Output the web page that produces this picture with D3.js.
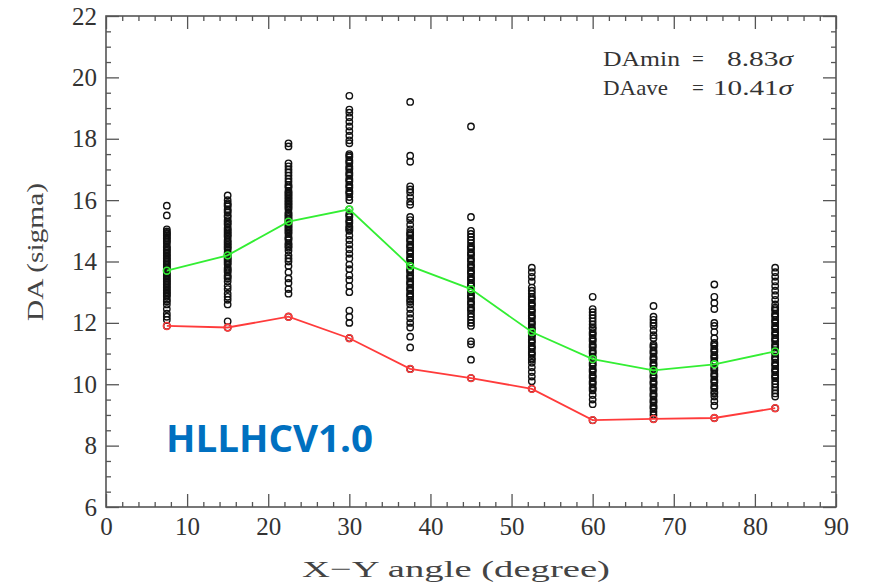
<!DOCTYPE html>
<html>
<head>
<meta charset="utf-8">
<script src="https://cdn.jsdelivr.net/npm/d3@7"></script>
<style>
  html, body { margin: 0; padding: 0; background: #fff; }
  svg { display: block; }
</style>
</head>
<body>
<div id="chart"></div>
<script>
// DA vs X-Y angle scan, one column of seeds per angle

var angles = [7.5, 15, 22.5, 30, 37.5, 45, 52.5, 60, 67.5, 75, 82.5];

// minimum DA over seeds (red)
var daMin = [11.9, 11.85, 12.2, 11.5, 10.5, 10.2, 9.85, 8.83, 8.87, 8.9, 9.22];
// average DA over seeds (green)
var daAve = [13.7, 14.2, 15.3, 15.7, 13.85, 13.1, 11.7, 10.82, 10.45, 10.65, 11.07];

// DA per seed, one list per angle
var seeds = [
  [15.82, 15.5, 15.05, 14.98, 14.93, 14.9, 14.85, 14.8, 14.75, 14.7, 14.65, 14.6, 14.5, 14.45, 14.4, 14.35, 14.3, 14.25, 14.2, 14.15, 14.1, 14.05, 14.0, 13.95, 13.9, 13.85, 13.8, 13.75, 13.7, 13.65, 13.6, 13.55, 13.5, 13.45, 13.4, 13.35, 13.3, 13.25, 13.2, 13.15, 13.1, 13.05, 13.0, 12.95, 12.9, 12.85, 12.75, 12.7, 12.6, 12.45, 12.3, 12.2, 12.1, 11.9],
  [16.15, 16.0, 15.9, 15.85, 15.8, 15.7, 15.65, 15.6, 15.5, 15.45, 15.35, 15.3, 15.25, 15.2, 15.1, 15.05, 15.0, 14.95, 14.9, 14.85, 14.8, 14.7, 14.65, 14.6, 14.55, 14.5, 14.45, 14.4, 14.3, 14.25, 14.2, 14.15, 14.1, 14.05, 14.0, 13.95, 13.9, 13.8, 13.75, 13.7, 13.65, 13.55, 13.5, 13.45, 13.35, 13.2, 13.1, 12.95, 12.85, 12.75, 12.6, 12.05, 11.85],
  [17.85, 17.75, 17.2, 17.1, 17.0, 16.9, 16.8, 16.7, 16.6, 16.5, 16.45, 16.4, 16.3, 16.25, 16.2, 16.15, 16.1, 16.05, 16.0, 15.95, 15.9, 15.85, 15.8, 15.75, 15.7, 15.6, 15.55, 15.5, 15.45, 15.4, 15.35, 15.3, 15.25, 15.2, 15.15, 15.1, 15.05, 15.0, 14.95, 14.9, 14.8, 14.75, 14.7, 14.6, 14.55, 14.5, 14.45, 14.35, 14.2, 14.1, 14.0, 13.85, 13.65, 13.45, 13.3, 13.1, 12.95, 12.2],
  [19.4, 18.95, 18.85, 18.7, 18.55, 18.4, 18.25, 18.1, 17.95, 17.85, 17.5, 17.45, 17.4, 17.3, 17.25, 17.2, 17.1, 17.05, 17.0, 16.9, 16.85, 16.8, 16.7, 16.65, 16.6, 16.5, 16.45, 16.4, 16.3, 16.25, 16.2, 16.1, 16.0, 15.7, 15.55, 15.5, 15.45, 15.35, 15.3, 15.25, 15.15, 15.1, 15.05, 15.0, 14.85, 14.7, 14.55, 14.4, 14.25, 14.1, 13.9, 13.75, 13.55, 13.4, 13.2, 13.0, 12.4, 12.2, 12.0, 11.5],
  [19.2, 17.45, 17.25, 16.45, 16.35, 16.25, 16.1, 15.95, 15.85, 15.45, 15.35, 15.2, 15.05, 14.95, 14.9, 14.85, 14.75, 14.7, 14.65, 14.55, 14.5, 14.45, 14.35, 14.3, 14.25, 14.15, 14.1, 14.05, 13.95, 13.9, 13.85, 13.75, 13.7, 13.65, 13.55, 13.5, 13.45, 13.35, 13.3, 13.25, 13.15, 13.1, 13.05, 12.95, 12.9, 12.85, 12.75, 12.7, 12.6, 12.45, 12.3, 12.15, 12.0, 11.85, 11.55, 11.2, 10.5],
  [18.4, 15.45, 15.0, 14.9, 14.8, 14.7, 14.6, 14.5, 14.45, 14.4, 14.3, 14.25, 14.2, 14.1, 14.05, 14.0, 13.9, 13.85, 13.8, 13.7, 13.65, 13.6, 13.5, 13.45, 13.4, 13.3, 13.25, 13.2, 13.1, 13.05, 13.0, 12.9, 12.85, 12.8, 12.7, 12.65, 12.6, 12.5, 12.45, 12.4, 12.3, 12.2, 12.1, 12.0, 11.9, 11.4, 11.3, 10.8, 10.2],
  [13.8, 13.65, 13.5, 13.35, 13.15, 13.05, 12.95, 12.85, 12.8, 12.75, 12.65, 12.6, 12.55, 12.45, 12.4, 12.35, 12.25, 12.2, 12.15, 12.05, 12.0, 11.95, 11.85, 11.8, 11.75, 11.65, 11.6, 11.55, 11.45, 11.4, 11.35, 11.25, 11.2, 11.15, 11.05, 11.0, 10.95, 10.85, 10.8, 10.7, 10.55, 10.4, 10.25, 10.1, 9.85],
  [12.85, 12.45, 12.35, 12.25, 12.15, 12.05, 11.95, 11.85, 11.8, 11.7, 11.65, 11.6, 11.5, 11.45, 11.4, 11.3, 11.25, 11.2, 11.1, 11.05, 11.0, 10.9, 10.85, 10.8, 10.7, 10.65, 10.6, 10.5, 10.45, 10.4, 10.3, 10.25, 10.2, 10.1, 10.05, 10.0, 9.9, 9.85, 9.8, 9.65, 9.5, 9.35, 8.83],
  [12.55, 12.2, 12.1, 12.0, 11.9, 11.75, 11.6, 11.5, 11.3, 11.25, 11.2, 11.1, 11.05, 11.0, 10.9, 10.85, 10.8, 10.7, 10.65, 10.6, 10.5, 10.45, 10.4, 10.3, 10.25, 10.2, 10.1, 10.05, 10.0, 9.9, 9.85, 9.8, 9.7, 9.65, 9.6, 9.5, 9.45, 9.4, 9.3, 9.25, 9.2, 9.1, 9.0, 8.87],
  [13.25, 12.85, 12.65, 12.45, 12.0, 11.9, 11.7, 11.5, 11.35, 11.3, 11.25, 11.15, 11.1, 11.05, 10.95, 10.9, 10.85, 10.75, 10.7, 10.65, 10.55, 10.5, 10.45, 10.35, 10.3, 10.25, 10.15, 10.1, 10.05, 9.95, 9.9, 9.85, 9.75, 9.7, 9.6, 9.45, 9.3, 8.9],
  [13.8, 13.65, 13.5, 13.35, 13.2, 13.05, 12.9, 12.75, 12.6, 12.5, 12.45, 12.4, 12.3, 12.25, 12.2, 12.1, 12.05, 12.0, 11.9, 11.85, 11.8, 11.7, 11.65, 11.6, 11.5, 11.45, 11.4, 11.3, 11.25, 11.2, 11.1, 11.05, 11.0, 10.9, 10.85, 10.8, 10.7, 10.65, 10.6, 10.5, 10.45, 10.4, 10.3, 10.25, 10.2, 10.1, 10.0, 9.9, 9.8, 9.7, 9.6, 9.22]
];

var xTicks = [0, 10, 20, 30, 40, 50, 60, 70, 80, 90];
var yTicks = [6, 8, 10, 12, 14, 16, 18, 20, 22];

var width = 870, height = 586;
var plotLeft = 106, plotRight = 836, plotTop = 16, plotBottom = 507;

var svg = d3.select('#chart').append('svg')
    .attr('width', width)
    .attr('height', height);

var x = d3.scaleLinear().domain([0, 90]).range([plotLeft, plotRight]);
var y = d3.scaleLinear().domain([6, 22]).range([plotBottom, plotTop]);

var serif = '"Liberation Serif", "DejaVu Serif", serif';
var axisColor = '#555';

// --- minor ticks (every 2 deg / 0.5 sigma) ---
var xMinor = d3.range(0, 91, 2).filter(function (v) { return v % 10 !== 0; });
var yMinor = d3.range(6, 22.01, 0.5).filter(function (v) { return v % 2 !== 0; });

function styleAxis(g) {
    g.select('.domain').remove();
    g.selectAll('.tick line').attr('stroke', axisColor).attr('stroke-width', 1.3);
    g.selectAll('.tick text')
        .attr('fill', '#333')
        .style('font-family', serif)
        .style('font-size', '25px');
}

[['axisBottom', plotBottom, x, xTicks, xMinor, true],
 ['axisTop', plotTop, x, xTicks, xMinor, false]].forEach(function (a) {
    var major = d3[a[0]](a[2]).tickValues(a[3]).tickSizeInner(-13).tickSizeOuter(0).tickPadding(10);
    if (!a[5]) major.tickFormat('');
    svg.append('g').attr('transform', 'translate(0,' + a[1] + ')').call(major).call(styleAxis);
    var minor = d3[a[0]](a[2]).tickValues(a[4]).tickSizeInner(-5).tickSizeOuter(0).tickFormat('');
    svg.append('g').attr('transform', 'translate(0,' + a[1] + ')').call(minor).call(styleAxis);
});

[['axisLeft', plotLeft, y, yTicks, yMinor, true],
 ['axisRight', plotRight, y, yTicks, yMinor, false]].forEach(function (a) {
    var major = d3[a[0]](a[2]).tickValues(a[3]).tickSizeInner(-13).tickSizeOuter(0).tickPadding(9);
    if (!a[5]) major.tickFormat('');
    svg.append('g').attr('transform', 'translate(' + a[1] + ',0)').call(major).call(styleAxis);
    var minor = d3[a[0]](a[2]).tickValues(a[4]).tickSizeInner(-5).tickSizeOuter(0).tickFormat('');
    svg.append('g').attr('transform', 'translate(' + a[1] + ',0)').call(minor).call(styleAxis);
});

// frame
svg.append('rect')
    .attr('x', plotLeft).attr('y', plotTop)
    .attr('width', plotRight - plotLeft).attr('height', plotBottom - plotTop)
    .attr('fill', 'none')
    .attr('stroke', axisColor)
    .attr('stroke-width', 1.6);

// --- seed scatter (open circles) ---
var points = [];
seeds.forEach(function (col, i) {
    col.forEach(function (v) { points.push({ a: angles[i], v: v }); });
});

svg.append('g')
    .selectAll('circle')
    .data(points)
    .join('circle')
    .attr('cx', function (d) { return x(d.a); })
    .attr('cy', function (d) { return y(d.v); })
    .attr('r', 3.2)
    .attr('fill', 'none')
    .attr('stroke', '#111')
    .attr('stroke-width', 1.4);

// --- average & minimum lines ---
function drawSeries(vals, color) {
    var data = angles.map(function (a, i) { return { a: a, v: vals[i] }; });
    var line = d3.line()
        .x(function (d) { return x(d.a); })
        .y(function (d) { return y(d.v); });
    svg.append('path')
        .datum(data)
        .attr('d', line)
        .attr('fill', 'none')
        .attr('stroke', color)
        .attr('stroke-width', 1.8);
    svg.append('g')
        .selectAll('circle')
        .data(data)
        .join('circle')
        .attr('cx', function (d) { return x(d.a); })
        .attr('cy', function (d) { return y(d.v); })
        .attr('r', 3.4)
        .attr('fill', 'none')
        .attr('stroke', color)
        .attr('stroke-width', 1.6);
}
drawSeries(daAve, '#33ee33');
drawSeries(daMin, '#ff3b3b');

// --- axis titles ---
svg.append('text')
    .attr('x', 456).attr('y', 577)
    .attr('text-anchor', 'middle')
    .attr('fill', '#444')
    .style('font-family', serif)
    .style('font-size', '24px')
    .attr('textLength', 308)
    .attr('lengthAdjust', 'spacingAndGlyphs')
    .text('X\u2212Y angle (degree)');

svg.append('text')
    .attr('transform', 'translate(43,252) rotate(-90)')
    .attr('text-anchor', 'middle')
    .attr('fill', '#444')
    .style('font-family', serif)
    .style('font-size', '24px')
    .attr('textLength', 138)
    .attr('lengthAdjust', 'spacingAndGlyphs')
    .text('DA (sigma)');

// --- DA summary ---
var notes = [['DAmin', '8.83', 66, 77, 66], ['DAave', '10.41', 95, 65, 80]];
notes.forEach(function (n) {
    var t = svg.append('g')
        .attr('fill', '#333')
        .style('font-family', serif)
        .style('font-size', '21px');
    t.append('text').attr('x', 603).attr('y', n[2])
        .attr('textLength', n[3]).attr('lengthAdjust', 'spacingAndGlyphs')
        .text(n[0]);
    t.append('text').attr('x', 698).attr('y', n[2]).attr('text-anchor', 'middle').text('=');
    var v = t.append('text').attr('x', 793 - n[4]).attr('y', n[2])
        .attr('textLength', n[4]).attr('lengthAdjust', 'spacingAndGlyphs');
    v.append('tspan').text(n[1]);
    v.append('tspan').style('font-style', 'italic').text('\u03c3');
});

// --- lattice version tag ---
svg.append('text')
    .attr('x', 166).attr('y', 452)
    .attr('fill', '#0070c0')
    .style('font-family', '"Open Sans", "Noto Sans", sans-serif')
    .style('font-weight', 'bold')
    .style('font-size', '37px')
    .attr('textLength', 207)
    .attr('lengthAdjust', 'spacingAndGlyphs')
    .text('HLLHCV1.0');
</script>
</body>
</html>
